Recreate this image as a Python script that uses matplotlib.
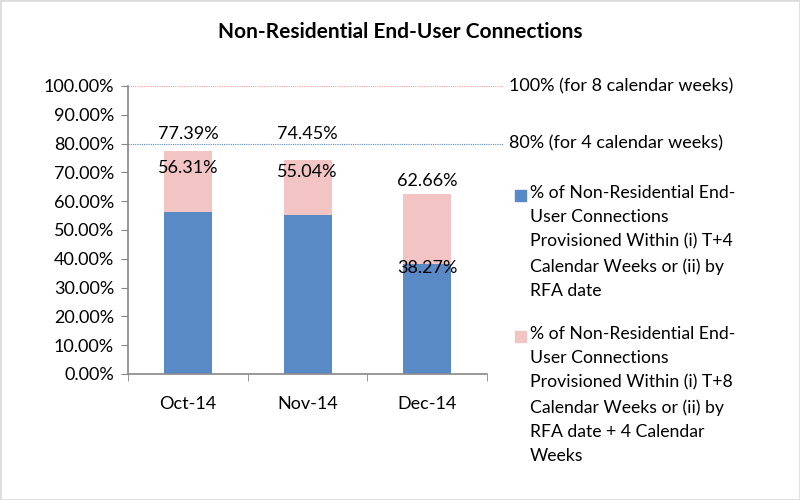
import numpy as np
import matplotlib.pyplot as plt
from matplotlib.patches import Rectangle

plt.rcParams['font.family'] = ['Lato', 'DejaVu Sans']

months = ["Oct-14", "Nov-14", "Dec-14"]
within_4 = [56.31, 55.04, 38.27]
within_8 = [77.39, 74.45, 62.66]
target_8 = 100
target_4 = 80

label_4 = ("% of Non-Residential End-\nUser Connections\nProvisioned Within (i) T+4\n"
           "Calendar Weeks or (ii) by\nRFA date")
label_8 = ("% of Non-Residential End-\nUser Connections\nProvisioned Within (i) T+8\n"
           "Calendar Weeks or (ii) by\nRFA date + 4 Calendar\nWeeks")

blue = "#5a8ac6"
pink = "#f2c4c4"

fig = plt.figure(figsize=(8, 5), dpi=100)
ax = fig.add_axes([0.16, 0.252, 0.449, 0.576])

x = np.arange(len(months))
extra = np.array(within_8) - np.array(within_4)
ax.bar(x, within_4, width=0.4, color=blue, zorder=2)
ax.bar(x, extra, bottom=within_4, width=0.4, color=pink, zorder=2)

ax.set_xlim(-0.5, 2.5)
ax.set_ylim(0, 100)
ax.set_yticks(np.arange(0, 101, 10))
ax.set_yticklabels(["%.2f%%" % v for v in np.arange(0, 101, 10)], fontsize=13)
ax.set_xticks(x)
ax.set_xticklabels(months, fontsize=13)
ax.set_xticks([-0.5, 0.5, 1.5, 2.5], minor=True)
ax.tick_params(axis='x', which='major', length=0, pad=16)
ax.tick_params(axis='x', which='minor', length=5, direction='out', color='#888888')
ax.tick_params(axis='y', length=5, direction='out', color='#888888', pad=5)
for s in ['top', 'right']:
    ax.spines[s].set_visible(False)
for s in ['left', 'bottom']:
    ax.spines[s].set_color('#888888')
    ax.spines[s].set_linewidth(1.2)

# target lines
ax.plot([-0.5, 2.63], [target_8, target_8], color='#f4a0a0', lw=0.8, ls=(0, (1, 1)), clip_on=False)
ax.plot([-0.5, 2.63], [target_4, target_4], color='#5a8ac6', lw=0.8, ls=(0, (1, 1)), clip_on=False)
ax.text(2.68, target_8, "100% (for 8 calendar weeks)", va='center', fontsize=13)
ax.text(2.68, target_4, "80% (for 4 calendar weeks)", va='center', fontsize=13)

# data labels
top_pos = [83.3, 83.3, 67.0]
low_pos = [71.5, 70.0, 36.8]
for i in range(len(months)):
    ax.text(x[i], top_pos[i], "%.2f%%" % within_8[i], ha='center', va='center', fontsize=13)
    ax.text(x[i], low_pos[i], "%.2f%%" % within_4[i], ha='center', va='center', fontsize=13)

# legend, drawn by hand so the swatch sits on the first line
for col, lab, ytop in [(blue, label_4, 1 - 195 / 500), (pink, label_8, 1 - 336 / 500)]:
    fig.patches.append(Rectangle((515 / 800, ytop - 6 / 500), 11 / 800, 11 / 500,
                                 transform=fig.transFigure, color=col))
    fig.text(530 / 800, ytop + 10 / 500, lab, ha='left', va='top', fontsize=12.7,
             linespacing=1.63)

fig.text(0.5, 0.936, "Non-Residential End-User Connections", ha='center', va='center',
         fontsize=15, fontweight='bold')

fig.patches.append(Rectangle((0, 0), 1, 1, transform=fig.transFigure, fill=False,
                             edgecolor='#dddddd', lw=2))

plt.savefig("out.png")
